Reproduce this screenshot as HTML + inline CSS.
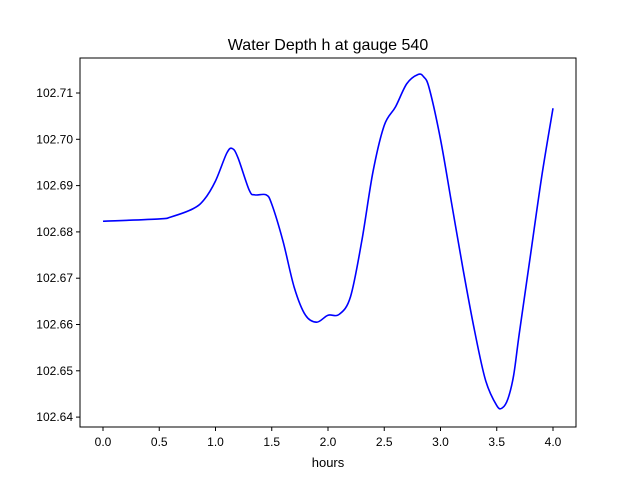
<!DOCTYPE html>
<html><head><meta charset="utf-8"><style>
body{margin:0;background:#fff;}
svg{display:block;font-family:"Liberation Sans","DejaVu Sans",sans-serif;}
</style></head><body>
<svg id="chart" width="640" height="480">
<rect x="0" y="0" width="640" height="480" fill="#fff"/>
<text x="328" y="50" font-size="16" text-anchor="middle">Water Depth h at gauge 540</text>
<g id="ticks"></g>
<path id="line" fill="none" stroke="#0000ff" stroke-width="1.6"/>
<rect x="80" y="58" width="496" height="369" fill="none" stroke="#000" stroke-width="1"/>
<text x="328" y="467" font-size="13" text-anchor="middle">hours</text>
</svg>
<script>
const xs=[0,0.5,0.6,0.8,0.9,1.0,1.1,1.15,1.2,1.3,1.35,1.45,1.5,1.6,1.7,1.8,1.9,2.0,2.1,2.2,2.3,2.4,2.5,2.6,2.7,2.8,2.85,2.9,3.0,3.1,3.2,3.3,3.4,3.5,3.55,3.6,3.65,3.7,3.8,3.9,4.0];
const ys=[102.6823,102.6828,102.6832,102.685,102.687,102.691,102.697,102.698,102.696,102.689,102.688,102.688,102.686,102.678,102.668,102.662,102.6605,102.662,102.6622,102.666,102.678,102.693,102.703,102.707,102.712,102.714,102.7135,102.711,102.700,102.686,102.672,102.659,102.648,102.6425,102.642,102.644,102.649,102.658,102.675,102.692,102.7067];
const xTicks=[0,0.5,1,1.5,2,2.5,3,3.5,4];
const xTickLabels=["0.0","0.5","1.0","1.5","2.0","2.5","3.0","3.5","4.0"];
const yTicks=[102.64,102.65,102.66,102.67,102.68,102.69,102.70,102.71];
const yTickLabels=["102.64","102.65","102.66","102.67","102.68","102.69","102.70","102.71"];
const X=v=>103+v*112.5;
const Y=v=>93+(102.71-v)*4630;
const ns="http://www.w3.org/2000/svg";
const g=document.getElementById('ticks');
function mk(t,a){const e=document.createElementNS(ns,t);for(const k in a)e.setAttribute(k,a[k]);return e;}
xTicks.forEach((v,i)=>{
 const l=mk('line',{x1:X(v),x2:X(v),y1:427,y2:431,stroke:'#000'});
 
 
 g.appendChild(l);
 const t=mk('text',{x:X(v),y:446,'font-size':12,'text-anchor':'middle'});
 t.textContent=xTickLabels[i];
 
 
 g.appendChild(t);
});
yTicks.forEach((v,i)=>{
 const l=mk('line',{x1:76,x2:80,y1:Y(v),y2:Y(v),stroke:'#000'});
 
 
 g.appendChild(l);
 const t=mk('text',{x:73,y:Y(v)+4,'font-size':12,'text-anchor':'end'});
 t.textContent=yTickLabels[i];
 
 
 g.appendChild(t);
});
const P=xs.map((x,i)=>[X(x),Y(ys[i])]);
let d='M'+P[0][0]+','+P[0][1];
for(let i=0;i<P.length-1;i++){
 const p0=P[Math.max(0,i-1)],p1=P[i],p2=P[i+1],p3=P[Math.min(P.length-1,i+2)];
 const c1=[p1[0]+(p2[0]-p0[0])/6,p1[1]+(p2[1]-p0[1])/6];
 const c2=[p2[0]-(p3[0]-p1[0])/6,p2[1]-(p3[1]-p1[1])/6];
 d+=' C'+c1+' '+c2+' '+p2;
}
document.getElementById('line').setAttribute('d',d);
</script>
</body></html>
